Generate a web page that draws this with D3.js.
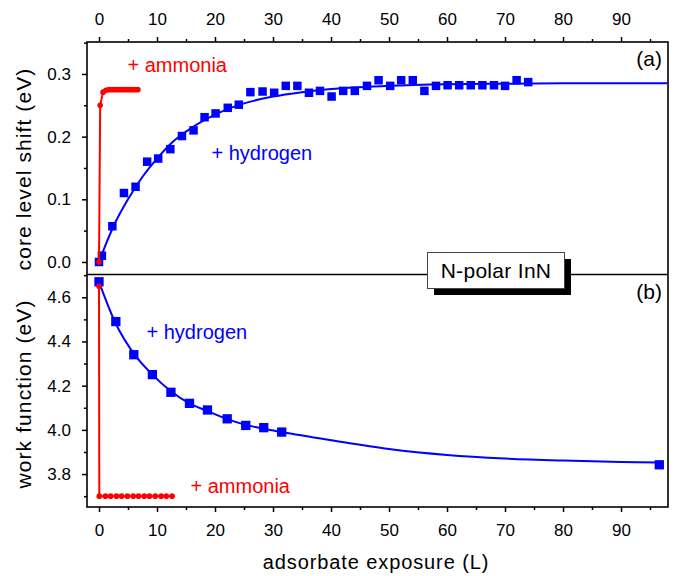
<!DOCTYPE html>
<html>
<head>
<meta charset="utf-8">
<script src="https://cdn.jsdelivr.net/npm/d3@7"></script>
<style>
  body { margin: 0; background: #fff; }
  svg text { font-family: "Liberation Sans", Arial, sans-serif; }
</style>
</head>
<body>
<div id="chart"></div>
<script>

// Panel (a): core level shift, hydrogen exposure
var hydX_a = [0, 0.5, 2.3, 4.3, 6.3, 8.3, 10.2, 12.3, 14.3, 16.3, 18.2, 20.1, 22.2, 24.1, 26.1,
              28.2, 30.2, 32.2, 34.2, 36.2, 38.1, 40.1, 42.1, 44.1, 46.2, 48.2, 50.2, 52.1, 54.1,
              56.1, 58.1, 60.1, 62.1, 64.1, 66.1, 68.1, 70.0, 72.0, 74.0];
var hydY_a = [0, 0.01, 0.057, 0.11, 0.12, 0.16, 0.165, 0.18, 0.201, 0.21, 0.231, 0.237, 0.246, 0.251, 0.271,
              0.272, 0.270, 0.281, 0.281, 0.270, 0.273, 0.264, 0.273, 0.273, 0.281, 0.290, 0.281, 0.290, 0.290,
              0.273, 0.281, 0.282, 0.282, 0.282, 0.282, 0.282, 0.281, 0.290, 0.287];

// fit line
var fitX_a = [0, 1, 2.5, 5, 7.5, 10, 12.5, 15, 20, 25, 30, 35, 40, 50, 60, 70, 80, 98];
var fitY_a = [0, 0.024, 0.057, 0.100, 0.136, 0.165, 0.19, 0.208, 0.235, 0.253, 0.264, 0.271, 0.276, 0.281, 0.2835, 0.2845, 0.285, 0.285];

// Panel (a): ammonia
var ammX_a = [0, 0.2, 0.7, 1.2, 1.7, 2.2, 2.7, 3.2, 3.7, 4.2, 4.7, 5.2, 5.7, 6.2, 6.7];
var ammY_a = [0, 0.25, 0.271, 0.274, 0.275, 0.275, 0.275, 0.275, 0.275, 0.275, 0.275, 0.275, 0.275, 0.275, 0.275];

// Panel (b): work function, hydrogen exposure
var hydX_b = [0, 2.9, 6.0, 9.2, 12.4, 15.6, 18.7, 22.1, 25.3, 28.4, 31.5, 96.6];
var hydY_b = [4.67, 4.49, 4.34, 4.25, 4.17, 4.12, 4.09, 4.05, 4.02, 4.01, 3.99, 3.842];

var fitX_b = [0, 2.9, 6, 9.2, 12.4, 15.6, 18.7, 22, 25, 28.4, 31.5, 40, 50, 60, 70, 80, 90, 96.6];
var fitY_b = [4.67, 4.48, 4.345, 4.25, 4.175, 4.12, 4.085, 4.05, 4.025, 4.005, 3.99, 3.953, 3.913, 3.886, 3.870, 3.861, 3.855, 3.852];

// Panel (b): ammonia
var ammX_b = [0, 0.05, 1.1, 2.0, 3.0, 3.9, 4.9, 5.9, 6.8, 7.8, 8.7, 9.7, 10.7, 11.6, 12.6];
var ammY_b = [4.65, 3.70, 3.70, 3.70, 3.70, 3.70, 3.70, 3.70, 3.70, 3.70, 3.70, 3.70, 3.70, 3.70, 3.70];

// Ticks
var xMajor = [0, 10, 20, 30, 40, 50, 60, 70, 80, 90];
var xMinor = [5, 15, 25, 35, 45, 55, 65, 75, 85, 95];
var yMajor_a = [0, 0.1, 0.2, 0.3];
var yMinor_a = [0.05, 0.15, 0.25, 0.35];
var yMajor_b = [3.8, 4.0, 4.2, 4.4, 4.6];
var yMinor_b = [3.7, 3.9, 4.1, 4.3, 4.5, 4.7];

function zip(xs, ys){
    var out = [];
    for(var i = 0; i < xs.length; i++){
        out.push({x: xs[i], y: ys[i]});
    }
    return out;
}

var W = 676, H = 576;
// plot frame (note: "top" is reserved on window, so prefixed names)
var pLeft = 87, pRight = 668, pTop = 42, pMid = 274.5, pBottom = 507;
var blue = "#0000ff", red = "#ff0000";

var svg = d3.select("#chart").append("svg")
    .attr("width", W)
    .attr("height", H);

var x = d3.scaleLinear().domain([-2.07, 98.1]).range([pLeft, pRight]);
var yA = d3.scaleLinear().domain([-0.02, 0.351]).range([pMid, pTop]);
var yB = d3.scaleLinear().domain([3.651, 4.703]).range([pBottom, pMid]);

// Axes (major with labels, minor without)
function styleAxis(g){
    g.select(".domain").remove();
    g.selectAll("line").attr("stroke", "#000").attr("stroke-width", 1.5);
    g.selectAll("text").style("font-size", "17px").attr("fill", "#000");
}

svg.append("g").attr("transform", "translate(0," + pTop + ")")
    .call(d3.axisTop(x).tickValues(xMajor).tickSize(5).tickPadding(12).tickFormat(d3.format("d")))
    .call(styleAxis);
svg.append("g").attr("transform", "translate(0," + pTop + ")")
    .call(d3.axisTop(x).tickValues(xMinor).tickSize(3).tickFormat(""))
    .call(styleAxis);

svg.append("g").attr("transform", "translate(0," + pBottom + ")")
    .call(d3.axisBottom(x).tickValues(xMajor).tickSize(5).tickPadding(12).tickFormat(d3.format("d")))
    .call(styleAxis);
svg.append("g").attr("transform", "translate(0," + pBottom + ")")
    .call(d3.axisBottom(x).tickValues(xMinor).tickSize(3).tickFormat(""))
    .call(styleAxis);

svg.append("g").attr("transform", "translate(" + pLeft + ",0)")
    .call(d3.axisLeft(yA).tickValues(yMajor_a).tickSize(5).tickPadding(11).tickFormat(d3.format(".1f")))
    .call(styleAxis);
svg.append("g").attr("transform", "translate(" + pLeft + ",0)")
    .call(d3.axisLeft(yA).tickValues(yMinor_a).tickSize(3).tickFormat(""))
    .call(styleAxis);

svg.append("g").attr("transform", "translate(" + pLeft + ",0)")
    .call(d3.axisLeft(yB).tickValues(yMajor_b).tickSize(5).tickPadding(11).tickFormat(d3.format(".1f")))
    .call(styleAxis);
svg.append("g").attr("transform", "translate(" + pLeft + ",0)")
    .call(d3.axisLeft(yB).tickValues(yMinor_b).tickSize(3).tickFormat(""))
    .call(styleAxis);

// Frame and panel divider
svg.append("rect")
    .attr("x", pLeft).attr("y", pTop)
    .attr("width", pRight - pLeft).attr("height", pBottom - pTop)
    .attr("fill", "none").attr("stroke", "#000").attr("stroke-width", 1.6);
svg.append("line")
    .attr("x1", pLeft).attr("x2", pRight)
    .attr("y1", pMid).attr("y2", pMid)
    .attr("stroke", "#000").attr("stroke-width", 1.5);

// Draw one panel's series (s = square size)
function drawPanel(y, fit, hyd, amm, s){
    var line = d3.line()
        .x(function(d){ return x(d.x); })
        .y(function(d){ return y(d.y); });

    svg.append("path")
        .datum(fit)
        .attr("fill", "none")
        .attr("stroke", blue)
        .attr("stroke-width", 2)
        .attr("d", line.curve(d3.curveMonotoneX));

    svg.append("g").selectAll("rect")
        .data(hyd).enter().append("rect")
        .attr("x", function(d){ return x(d.x) - s / 2; })
        .attr("y", function(d){ return y(d.y) - s / 2; })
        .attr("width", s).attr("height", s)
        .attr("fill", blue);

    svg.append("path")
        .datum(amm)
        .attr("fill", "none")
        .attr("stroke", red)
        .attr("stroke-width", 2)
        .attr("d", line.curve(d3.curveLinear));

    svg.append("g").selectAll("circle")
        .data(amm).enter().append("circle")
        .attr("cx", function(d){ return x(d.x); })
        .attr("cy", function(d){ return y(d.y); })
        .attr("r", 2.8)
        .attr("fill", red);
}

drawPanel(yA, zip(fitX_a, fitY_a), zip(hydX_a, hydY_a), zip(ammX_a, ammY_a), 8.5);
drawPanel(yB, zip(fitX_b, fitY_b), zip(hydX_b, hydY_b), zip(ammX_b, ammY_b), 9.3);

// Annotations
function label(txt, px, py, color, size, anchor){
    return svg.append("text")
        .attr("x", px).attr("y", py)
        .attr("fill", color)
        .attr("text-anchor", anchor || "start")
        .style("font-size", size + "px")
        .text(txt);
}

label("+ ammonia", 127.5, 71.5, red, 20);
label("+ hydrogen", 211.5, 160, blue, 20);
label("+ hydrogen", 146.5, 339, blue, 20);
label("+ ammonia", 190.5, 492.5, red, 20);
label("(a)", 662, 66, "#000", 21, "end");
label("(b)", 662, 299, "#000", 21, "end");

// Sample box with shadow
var bx = 427.5, by = 252.5, bw = 137, bh = 36;
svg.append("rect")
    .attr("x", bx + 6.5).attr("y", by + 6.5)
    .attr("width", bw).attr("height", bh)
    .attr("fill", "#000");
svg.append("rect")
    .attr("x", bx).attr("y", by)
    .attr("width", bw).attr("height", bh)
    .attr("fill", "#fff").attr("stroke", "#444").attr("stroke-width", 1);
label("N-polar InN", bx + bw / 2, 278, "#000", 21, "middle")
    .style("letter-spacing", "0.3px");

// Axis titles
label("adsorbate exposure (L)", 376, 569, "#000", 20, "middle")
    .style("letter-spacing", "0.9px");

svg.append("text")
    .attr("transform", "translate(31,169) rotate(-90)")
    .attr("text-anchor", "middle")
    .style("font-size", "21px")
    .style("letter-spacing", "1.1px")
    .text("core level shift (eV)");

svg.append("text")
    .attr("transform", "translate(31,394) rotate(-90)")
    .attr("text-anchor", "middle")
    .style("font-size", "21px")
    .style("letter-spacing", "1.1px")
    .text("work function (eV)");

</script>
</body>
</html>
